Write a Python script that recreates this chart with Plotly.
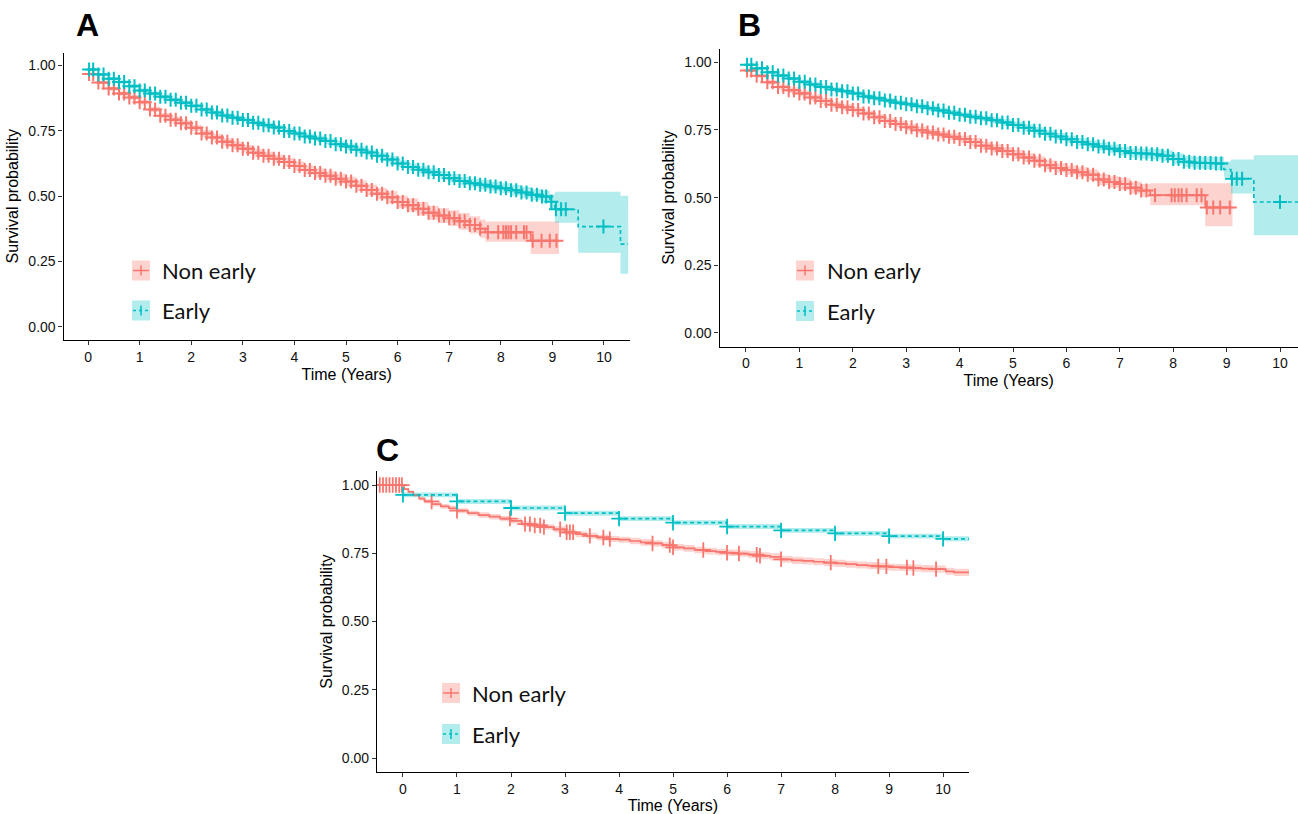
import numpy as np
import plotly.graph_objects as go

# ---------------- data ----------------
# Panel A
A_non_t = [0, 0.2, 0.4, 0.6, 0.8, 1.0, 1.2, 1.4, 1.6, 1.8, 2.0, 2.2, 2.4, 2.6, 2.8, 3.0, 3.2, 3.4, 3.6, 3.8,
           4.0, 4.2, 4.4, 4.6, 4.8, 5.0, 5.2, 5.4, 5.6, 5.8, 6.0, 6.2, 6.4, 6.6, 6.8, 7.0, 7.2, 7.4, 7.6, 7.7, 8.58, 9.13]
A_non_s = [0.968, 0.935, 0.912, 0.893, 0.878, 0.860, 0.832, 0.808, 0.793, 0.779, 0.762, 0.740, 0.725, 0.709,
           0.695, 0.682, 0.666, 0.655, 0.643, 0.631, 0.616, 0.600, 0.589, 0.578, 0.567, 0.556, 0.540, 0.524,
           0.510, 0.496, 0.478, 0.466, 0.452, 0.437, 0.426, 0.416, 0.404, 0.390, 0.376, 0.362, 0.330, 0.330]
A_non_lo = [0.963, 0.929, 0.905, 0.885, 0.869, 0.851, 0.822, 0.797, 0.782, 0.767, 0.750, 0.727, 0.712, 0.696,
            0.681, 0.668, 0.651, 0.640, 0.627, 0.615, 0.599, 0.583, 0.571, 0.560, 0.548, 0.537, 0.520, 0.503,
            0.488, 0.473, 0.454, 0.441, 0.426, 0.410, 0.398, 0.386, 0.372, 0.357, 0.341, 0.326, 0.279, 0.279]
A_non_hi = [0.973, 0.941, 0.919, 0.901, 0.887, 0.869, 0.842, 0.819, 0.804, 0.791, 0.774, 0.753, 0.738, 0.722,
            0.709, 0.696, 0.681, 0.670, 0.659, 0.647, 0.633, 0.617, 0.607, 0.596, 0.586, 0.575, 0.560, 0.545,
            0.532, 0.519, 0.502, 0.491, 0.478, 0.464, 0.454, 0.446, 0.436, 0.423, 0.411, 0.403, 0.403, 0.403]
A_non_grid_end = 7.6
A_non_tail = [7.75, 7.95, 8.05, 8.1, 8.15, 8.2, 8.3, 8.45, 8.5, 8.62, 8.79, 8.95, 9.08]

A_ear_t = [0, 0.2, 0.4, 0.6, 0.8, 1.0, 1.2, 1.4, 1.6, 1.8, 2.0, 2.2, 2.4, 2.6, 2.8, 3.0, 3.2, 3.4, 3.6, 3.8,
           4.0, 4.2, 4.4, 4.6, 4.8, 5.0, 5.2, 5.4, 5.6, 5.8, 6.0, 6.2, 6.4, 6.6, 6.8, 7.0, 7.2, 7.4, 7.6, 7.8,
           8.0, 8.2, 8.4, 8.6, 8.8, 8.95, 9.05, 9.5, 10.32, 10.47]
A_ear_s = [0.985, 0.966, 0.950, 0.937, 0.921, 0.905, 0.893, 0.881, 0.869, 0.858, 0.846, 0.832, 0.820, 0.809,
           0.800, 0.792, 0.781, 0.772, 0.763, 0.750, 0.740, 0.729, 0.721, 0.711, 0.699, 0.690, 0.678, 0.667,
           0.655, 0.641, 0.625, 0.612, 0.601, 0.592, 0.581, 0.569, 0.558, 0.550, 0.544, 0.537, 0.531, 0.523,
           0.514, 0.506, 0.499, 0.479, 0.450, 0.384, 0.317, 0.317]
A_ear_lo = [0.980, 0.960, 0.943, 0.930, 0.913, 0.897, 0.885, 0.873, 0.861, 0.850, 0.838, 0.823, 0.811, 0.800,
            0.791, 0.783, 0.772, 0.762, 0.753, 0.740, 0.730, 0.718, 0.710, 0.700, 0.688, 0.678, 0.666, 0.655,
            0.643, 0.628, 0.612, 0.599, 0.587, 0.578, 0.566, 0.554, 0.542, 0.533, 0.526, 0.519, 0.512, 0.503,
            0.493, 0.485, 0.477, 0.452, 0.399, 0.284, 0.203, 0.203]
A_ear_hi = [0.990, 0.972, 0.957, 0.944, 0.929, 0.913, 0.901, 0.889, 0.877, 0.866, 0.854, 0.841, 0.829, 0.818,
            0.809, 0.801, 0.790, 0.782, 0.773, 0.760, 0.750, 0.740, 0.732, 0.722, 0.710, 0.702, 0.690, 0.679,
            0.667, 0.654, 0.638, 0.625, 0.615, 0.606, 0.596, 0.584, 0.574, 0.567, 0.562, 0.555, 0.550, 0.543,
            0.535, 0.527, 0.521, 0.508, 0.517, 0.517, 0.502, 0.502]
A_ear_grid_end = 8.8
A_ear_tail = [8.88, 8.98, 9.07, 9.17, 9.26, 9.99]

# Panel B
B_non_t = [0, 0.2, 0.4, 0.6, 0.8, 1.0, 1.2, 1.4, 1.6, 1.8, 2.0, 2.2, 2.4, 2.6, 2.8, 3.0, 3.2, 3.4, 3.6, 3.8,
           4.0, 4.2, 4.4, 4.6, 4.8, 5.0, 5.2, 5.4, 5.6, 5.8, 6.0, 6.2, 6.4, 6.6, 6.8, 7.0, 7.2, 7.4, 7.57, 8.6, 9.11]
B_non_s = [0.970, 0.950, 0.926, 0.909, 0.897, 0.885, 0.870, 0.857, 0.843, 0.834, 0.824, 0.811, 0.797, 0.783,
           0.772, 0.760, 0.749, 0.741, 0.733, 0.725, 0.717, 0.706, 0.692, 0.682, 0.672, 0.660, 0.648, 0.636,
           0.620, 0.610, 0.602, 0.594, 0.585, 0.567, 0.558, 0.550, 0.537, 0.526, 0.509, 0.464, 0.464]
B_non_lo = [0.964, 0.943, 0.918, 0.900, 0.887, 0.874, 0.859, 0.846, 0.832, 0.823, 0.814, 0.800, 0.786, 0.772,
            0.760, 0.748, 0.736, 0.728, 0.720, 0.712, 0.704, 0.692, 0.678, 0.667, 0.657, 0.644, 0.632, 0.619,
            0.603, 0.593, 0.585, 0.576, 0.566, 0.547, 0.537, 0.528, 0.514, 0.502, 0.472, 0.394, 0.394]
B_non_hi = [0.976, 0.957, 0.934, 0.918, 0.907, 0.896, 0.881, 0.868, 0.854, 0.845, 0.834, 0.822, 0.808, 0.794,
            0.784, 0.772, 0.762, 0.754, 0.746, 0.738, 0.730, 0.720, 0.706, 0.697, 0.687, 0.676, 0.664, 0.653,
            0.637, 0.627, 0.619, 0.612, 0.604, 0.587, 0.579, 0.572, 0.560, 0.550, 0.553, 0.553, 0.553]
B_non_grid_end = 7.5
B_non_tail = [7.66, 7.97, 8.03, 8.1, 8.16, 8.25, 8.44, 8.53, 8.63, 8.75, 8.88, 9.06]

B_ear_t = [0, 0.2, 0.4, 0.6, 0.8, 1.0, 1.2, 1.4, 1.6, 1.8, 2.0, 2.2, 2.4, 2.6, 2.8, 3.0, 3.2, 3.4, 3.6, 3.8,
           4.0, 4.2, 4.4, 4.6, 4.8, 5.0, 5.2, 5.4, 5.6, 5.8, 6.0, 6.2, 6.4, 6.6, 6.8, 7.0, 7.2, 7.4, 7.6, 7.8,
           8.0, 8.2, 8.4, 8.6, 8.8, 8.95, 9.08, 9.51, 10.45]
B_ear_s = [0.991, 0.978, 0.963, 0.951, 0.940, 0.928, 0.918, 0.909, 0.900, 0.893, 0.885, 0.874, 0.867, 0.859,
           0.851, 0.845, 0.838, 0.830, 0.822, 0.814, 0.806, 0.799, 0.793, 0.786, 0.778, 0.768, 0.758, 0.747,
           0.736, 0.726, 0.716, 0.706, 0.697, 0.689, 0.681, 0.672, 0.665, 0.663, 0.660, 0.655, 0.643, 0.633,
           0.629, 0.628, 0.626, 0.604, 0.570, 0.484, 0.484]
B_ear_lo = [0.986, 0.972, 0.957, 0.944, 0.933, 0.920, 0.910, 0.901, 0.892, 0.885, 0.877, 0.865, 0.858, 0.850,
            0.842, 0.836, 0.828, 0.820, 0.812, 0.804, 0.796, 0.788, 0.782, 0.775, 0.766, 0.756, 0.745, 0.734,
            0.723, 0.713, 0.703, 0.692, 0.683, 0.674, 0.666, 0.656, 0.648, 0.645, 0.641, 0.636, 0.623, 0.612,
            0.607, 0.605, 0.601, 0.575, 0.515, 0.361, 0.361]
B_ear_hi = [0.996, 0.984, 0.969, 0.958, 0.947, 0.936, 0.926, 0.917, 0.908, 0.901, 0.893, 0.883, 0.876, 0.868,
            0.860, 0.854, 0.848, 0.840, 0.832, 0.824, 0.816, 0.810, 0.804, 0.797, 0.790, 0.780, 0.771, 0.760,
            0.749, 0.739, 0.729, 0.720, 0.711, 0.704, 0.696, 0.688, 0.682, 0.681, 0.679, 0.674, 0.663, 0.654,
            0.651, 0.651, 0.651, 0.634, 0.641, 0.657, 0.657]
B_ear_grid_end = 8.8
B_ear_tail = [8.9, 9.1, 9.19, 9.29, 10.0]

# Panel C
C_non_t = [-0.48, 0.02, 0.1, 0.19, 0.3, 0.4, 0.54, 0.7, 0.85, 1.0, 1.2, 1.4, 1.6, 1.8, 2.0, 2.2, 2.4, 2.6, 2.8,
           3.0, 3.2, 3.4, 3.6, 3.8, 4.0, 4.2, 4.4, 4.6, 4.8, 5.0, 5.2, 5.4, 5.6, 5.8, 6.0, 6.2, 6.4, 6.6, 6.8,
           7.0, 7.2, 7.4, 7.6, 7.8, 8.0, 8.2, 8.4, 8.6, 8.8, 9.0, 9.2, 9.4, 9.6, 9.8, 10.05, 10.2, 10.48]
C_non_s = [1.000, 0.985, 0.975, 0.963, 0.950, 0.940, 0.930, 0.922, 0.915, 0.906, 0.897, 0.890, 0.884, 0.877,
           0.869, 0.857, 0.852, 0.846, 0.838, 0.827, 0.820, 0.814, 0.808, 0.802, 0.800, 0.795, 0.790, 0.786,
           0.780, 0.772, 0.768, 0.762, 0.758, 0.755, 0.752, 0.749, 0.745, 0.741, 0.737, 0.728, 0.724, 0.722,
           0.719, 0.716, 0.713, 0.710, 0.707, 0.705, 0.702, 0.699, 0.698, 0.696, 0.694, 0.692, 0.684, 0.680, 0.680]
C_non_lo = [1.000, 0.981, 0.970, 0.957, 0.943, 0.932, 0.921, 0.913, 0.906, 0.897, 0.888, 0.880, 0.874, 0.867,
            0.859, 0.847, 0.842, 0.836, 0.827, 0.816, 0.809, 0.803, 0.797, 0.791, 0.789, 0.783, 0.778, 0.774,
            0.768, 0.760, 0.756, 0.750, 0.746, 0.743, 0.740, 0.737, 0.732, 0.728, 0.724, 0.715, 0.711, 0.709,
            0.706, 0.703, 0.700, 0.697, 0.694, 0.692, 0.689, 0.686, 0.685, 0.683, 0.681, 0.679, 0.671, 0.667, 0.667]
C_non_hi = [1.000, 0.989, 0.980, 0.969, 0.957, 0.948, 0.939, 0.931, 0.924, 0.915, 0.906, 0.900, 0.894, 0.887,
            0.879, 0.867, 0.862, 0.856, 0.849, 0.838, 0.831, 0.825, 0.819, 0.813, 0.811, 0.807, 0.802, 0.798,
            0.792, 0.784, 0.780, 0.774, 0.770, 0.767, 0.764, 0.761, 0.758, 0.754, 0.750, 0.741, 0.737, 0.735,
            0.732, 0.729, 0.726, 0.723, 0.720, 0.718, 0.715, 0.712, 0.711, 0.709, 0.707, 0.705, 0.697, 0.693, 0.693]
C_non_cens = [-0.43, -0.37, -0.31, -0.25, -0.19, -0.13, -0.07, -0.02, 0.53, 1.0, 1.98, 2.26, 2.35, 2.44, 2.54,
              2.61, 2.91, 3.03, 3.09, 3.15, 3.46, 3.71, 3.83, 4.62, 4.94, 5.0, 5.56, 6.0, 6.22, 6.55, 6.61,
              7.0, 7.92, 8.8, 8.95, 9.33, 9.45, 9.87]

C_ear_t = [0.0, 1.0, 2.0, 3.0, 4.0, 5.0, 6.0, 7.0, 8.0, 9.0, 10.0, 10.48]
C_ear_s = [0.964, 0.940, 0.916, 0.897, 0.877, 0.862, 0.848, 0.834, 0.823, 0.813, 0.803, 0.803]
C_ear_lo = [0.955, 0.931, 0.907, 0.888, 0.868, 0.853, 0.839, 0.825, 0.814, 0.804, 0.794, 0.794]
C_ear_hi = [0.973, 0.949, 0.925, 0.906, 0.886, 0.871, 0.857, 0.843, 0.832, 0.822, 0.812, 0.812]
C_ear_cens = [0.0, 1.0, 2.0, 3.0, 4.0, 5.0, 6.0, 7.0, 8.0, 9.0, 10.0]

CENSOR_GRID = [0.02, 0.1, 0.2, 0.3, 0.4, 0.5, 0.6, 0.7, 0.8, 0.9, 1.0, 1.1, 1.2, 1.3, 1.4, 1.5, 1.6, 1.7, 1.8,
               1.9, 2.0, 2.1, 2.2, 2.3, 2.4, 2.5, 2.6, 2.7, 2.8, 2.9, 3.0, 3.1, 3.2, 3.3, 3.4, 3.5, 3.6, 3.7,
               3.8, 3.9, 4.0, 4.1, 4.2, 4.3, 4.4, 4.5, 4.6, 4.7, 4.8, 4.9, 5.0, 5.1, 5.2, 5.3, 5.4, 5.5, 5.6,
               5.7, 5.8, 5.9, 6.0, 6.1, 6.2, 6.3, 6.4, 6.5, 6.6, 6.7, 6.8, 6.9, 7.0, 7.1, 7.2, 7.3, 7.4, 7.5,
               7.6, 7.7, 7.8, 7.9, 8.0, 8.1, 8.2, 8.3, 8.4, 8.5, 8.6, 8.7, 8.8]

X_TICKS = [0, 1, 2, 3, 4, 5, 6, 7, 8, 9, 10]
Y_TICKS = [0, 0.25, 0.5, 0.75, 1.0]
Y_LABELS = ["0.00", "0.25", "0.50", "0.75", "1.00"]
GROUPS = ["Non early", "Early"]
PANELS = ["A", "B", "C"]

# ---------------- styling ----------------
W, H = 1298, 814
RED, TEAL = "#F8766D", "#00BFC4"
RED_FILL, TEAL_FILL = "rgba(248,118,109,0.32)", "rgba(0,191,196,0.30)"
DASH = "4px,3px"


def px(x):
    return x / W


def py(y):
    return 1 - y / H


def step_lookup(t, s, times):
    t = np.asarray(t, float)
    s = np.asarray(s, float)
    idx = np.searchsorted(t, np.asarray(times, float), side="right") - 1
    idx = np.clip(idx, 0, len(s) - 1)
    return s[idx]


fig = go.Figure()


def add_km(t, s, lo, hi, cens, color, fill, dash, xa, ya, msize=10, mwidth=2.0):
    fig.add_trace(go.Scatter(x=t, y=hi, mode="lines", line=dict(width=0, shape="hv"),
                             hoverinfo="skip", showlegend=False, xaxis=xa, yaxis=ya))
    fig.add_trace(go.Scatter(x=t, y=lo, mode="lines", line=dict(width=0, shape="hv"),
                             fill="tonexty", fillcolor=fill, hoverinfo="skip",
                             showlegend=False, xaxis=xa, yaxis=ya))
    fig.add_trace(go.Scatter(x=t, y=s, mode="lines", line=dict(color=color, width=1.7, shape="hv", dash=dash),
                             showlegend=False, xaxis=xa, yaxis=ya))
    fig.add_trace(go.Scatter(x=cens, y=step_lookup(t, s, cens), mode="markers",
                             marker=dict(symbol="cross-thin", size=msize, line=dict(color=color, width=mwidth)),
                             showlegend=False, xaxis=xa, yaxis=ya))


def grid_until(end):
    return [c for c in CENSOR_GRID if c <= end + 1e-9]


# Panel A
add_km(A_non_t, A_non_s, A_non_lo, A_non_hi, grid_until(A_non_grid_end) + A_non_tail, RED, RED_FILL, "solid", "x", "y")
add_km(A_ear_t, A_ear_s, A_ear_lo, A_ear_hi, grid_until(A_ear_grid_end) + A_ear_tail, TEAL, TEAL_FILL, DASH, "x", "y")
# Panel B
add_km(B_non_t, B_non_s, B_non_lo, B_non_hi, grid_until(B_non_grid_end) + B_non_tail, RED, RED_FILL, "solid", "x2", "y2")
add_km(B_ear_t, B_ear_s, B_ear_lo, B_ear_hi, grid_until(B_ear_grid_end) + B_ear_tail, TEAL, TEAL_FILL, DASH, "x2", "y2")
# Panel C
add_km(C_non_t, C_non_s, C_non_lo, C_non_hi, C_non_cens, RED, RED_FILL, "solid", "x3", "y3", 11, 1.8)
add_km(C_ear_t, C_ear_s, C_ear_lo, C_ear_hi, C_ear_cens, TEAL, TEAL_FILL, DASH, "x3", "y3", 11, 1.8)

# axes geometry (pixels): left, right, top, bottom, x-range
geo = {
    "": (63.5, 630, 52.5, 340, [-0.476, 10.505]),
    "2": (719.5, 1298, 48.8, 346.5, [-0.496, 10.337]),
    "3": (377, 969, 471.4, 771.7, [-0.481, 10.48]),
}
tickfont = dict(family="Liberation Sans, Arial, sans-serif", size=14, color="#111")
titlefont = dict(family="Liberation Sans, Arial, sans-serif", size=16, color="#000")
for k, (l, r, t, b, xr) in geo.items():
    ax = "y" + k
    fig.layout["xaxis" + k] = dict(
        domain=[px(l), px(r)], range=xr, anchor=ax, tickvals=X_TICKS,
        showline=True, linecolor="#000", linewidth=1.2, ticks="outside", ticklen=4,
        tickcolor="#333", tickwidth=1.1, showgrid=False, zeroline=False, tickfont=tickfont,
        title=dict(text="Time (Years)", font=titlefont, standoff=4))
    fig.layout["yaxis" + k] = dict(
        domain=[py(b), py(t)], range=[-0.05, 1.05], anchor="x" + k, tickvals=Y_TICKS, ticktext=Y_LABELS,
        showline=True, linecolor="#000", linewidth=1.2, ticks="outside", ticklen=4,
        tickcolor="#333", tickwidth=1.1, showgrid=False, zeroline=False, tickfont=tickfont,
        title=dict(text="Survival probability", font=titlefont, standoff=5))

shapes = []
annotations = []

# panel letters
for letter, (cx, cy) in zip(PANELS, [(87, 25), (749, 25), (387, 450)]):
    annotations.append(dict(text="<b>%s</b>" % letter, x=px(cx), y=py(cy), xref="paper", yref="paper",
                            xanchor="center", yanchor="middle", showarrow=False,
                            font=dict(family="Liberation Sans, Arial, sans-serif", size=32, color="#000")))

# legends (one per panel)
legend_pos = [(132, 270.5, 310.5, 160), (796, 270.5, 311, 825), (442, 693, 734, 470)]
for (x0, yn, ye, tx) in legend_pos:
    for yc, col, fc, dash, label in [(yn, RED, RED_FILL, "solid", GROUPS[0]),
                                      (ye, TEAL, TEAL_FILL, "dot", GROUPS[1])]:
        shapes.append(dict(type="rect", xref="paper", yref="paper", x0=px(x0), x1=px(x0 + 18),
                           y0=py(yc + 10), y1=py(yc - 10), fillcolor=fc, line=dict(width=0)))
        shapes.append(dict(type="line", xref="paper", yref="paper", x0=px(x0 + 1), x1=px(x0 + 17),
                           y0=py(yc), y1=py(yc), line=dict(color=col, width=1.5, dash=dash)))
        shapes.append(dict(type="line", xref="paper", yref="paper", x0=px(x0 + 9), x1=px(x0 + 9),
                           y0=py(yc - 5), y1=py(yc + 5), line=dict(color=col, width=1.5)))
        annotations.append(dict(text=label, x=px(tx), y=py(yc), xref="paper", yref="paper",
                                xanchor="left", yanchor="middle", showarrow=False,
                                font=dict(family="Lato, sans-serif", size=22, color="#111")))

fig.update_layout(width=W, height=H, margin=dict(l=0, r=0, t=0, b=0), autosize=False,
                  paper_bgcolor="white", plot_bgcolor="white", showlegend=False,
                  shapes=shapes, annotations=annotations)

fig.write_html("out.html", config={"displayModeBar": False},
               post_script="document.body.style.margin='0';document.body.style.overflow='hidden';")
